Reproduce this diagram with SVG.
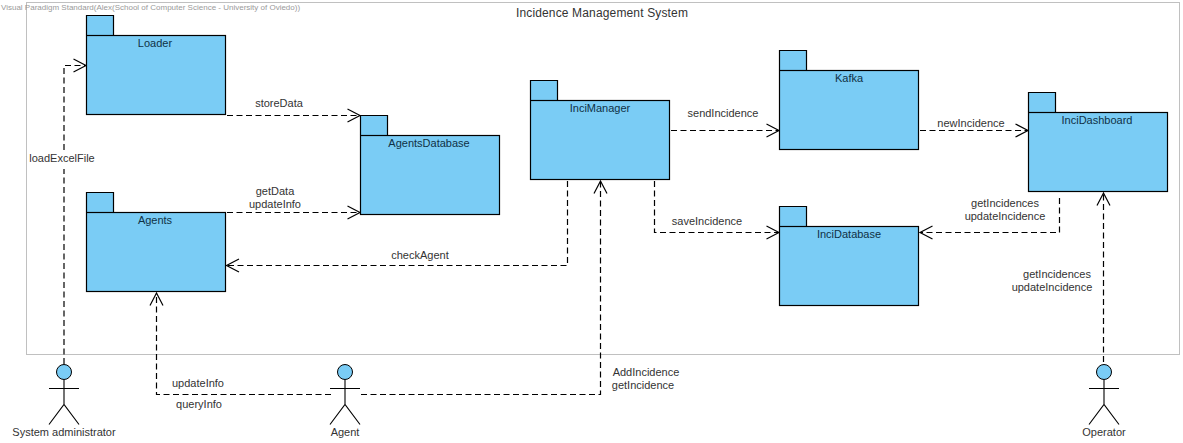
<svg xmlns="http://www.w3.org/2000/svg" width="1183" height="443" viewBox="0 0 1183 443">
<style>
text{font-family:"Liberation Sans",Arial,sans-serif;font-size:11px;fill:#333}
.m{text-anchor:middle}
.n{fill:#0f3145}
.pk{fill:#7accf5;stroke:#000;stroke-width:1.2}
.c{fill:none;stroke:#000;stroke-width:1.2;stroke-dasharray:6 3.500}
.h{fill:none;stroke:#000;stroke-width:1.200}
.a{fill:none;stroke:#000;stroke-width:1.1}
.hd{fill:#7accf5;stroke:#000;stroke-width:1}
</style>
<defs>
<g id="actor"><circle class="hd" cx="0" cy="372" r="7.500"/><path class="a" d="M0 380V404.500M-15 388.500H15M-15 424.500L0 404.500L15 424.500"/></g>
<marker id="arr" markerUnits="userSpaceOnUse" markerWidth="16" markerHeight="16" refX="13.500" refY="8" orient="auto"><path class="h" d="M1 1.500L13.500 8L1 14.500"/></marker>
</defs>
<rect id="frame" x="26.500" y="2.500" width="1153" height="352" fill="#fff" stroke="#c0c0c0" stroke-width="1"/>
<text id="title" class="m" x="602" y="17" style="font-size:12px;letter-spacing:.15px">Incidence Management System</text>
<text id="watermark" x="1" y="10" style="font-size:8px;fill:#9a9a9a">Visual Paradigm Standard(Alex(School of Computer Science - University of Oviedo))</text>
<g id="connectors">
<path class="c" d="M64 364V169"/>
<path class="c" marker-end="url(#arr)" d="M64 150V65.500H86"/>
<path class="c" marker-end="url(#arr)" d="M227 115.500H360"/>
<path class="c" marker-end="url(#arr)" d="M227 212.500H360"/>
<path class="c" marker-end="url(#arr)" d="M567.500 181V265.500H226.500"/>
<path class="c" marker-end="url(#arr)" d="M671 130.500H779"/>
<path class="c" marker-end="url(#arr)" d="M654.500 181V232.500H779"/>
<path class="c" marker-end="url(#arr)" d="M920 130.500H1028"/>
<path class="c" marker-end="url(#arr)" d="M1059.500 198V232.500H920"/>
<path class="c" marker-end="url(#arr)" d="M1103.500 362V193"/>
<path class="c" marker-end="url(#arr)" d="M331 394.500H156.500V293"/>
<path class="c" marker-end="url(#arr)" d="M361 394.500H600.500V181"/>
</g>
<g id="labels">
<text class="m" x="279" y="107">storeData</text>
<text class="m" x="275" y="195">getData</text>
<text class="m" x="275" y="208">updateInfo</text>
<text class="m" x="420" y="259">checkAgent</text>
<text class="m" x="723" y="117">sendIncidence</text>
<text class="m" x="707" y="225">saveIncidence</text>
<text class="m" x="971" y="127">newIncidence</text>
<text class="m" x="1005" y="207">getIncidences</text>
<text class="m" x="1005" y="220">updateIncidence</text>
<text class="m" x="1057" y="278">getIncidences</text>
<text class="m" x="1052" y="291">updateIncidence</text>
<text class="m" x="62" y="162">loadExcelFile</text>
<text class="m" x="198" y="387">updateInfo</text>
<text class="m" x="199" y="408">queryInfo</text>
<text class="m" x="646" y="376">AddIncidence</text>
<text class="m" x="643" y="389">getIncidence</text>
</g>
<g id="loader"><path class="pk" d="M86.500 35V15.500H113.500V35"/><rect class="pk" x="86.500" y="35.500" width="139" height="79"/><text class="m n" x="155" y="47">Loader</text></g>
<g id="agentsdatabase"><path class="pk" d="M360.500 135V115.500H387.500V135"/><rect class="pk" x="360.500" y="135.500" width="139" height="79"/><text class="m n" x="429" y="147">AgentsDatabase</text></g>
<g id="agents"><path class="pk" d="M86.500 212V192.500H113.500V212"/><rect class="pk" x="86.500" y="212.500" width="139" height="79"/><text class="m n" x="155" y="224">Agents</text></g>
<g id="incimanager"><path class="pk" d="M530.500 100V80.500H557.500V100"/><rect class="pk" x="530.500" y="100.500" width="139" height="79"/><text class="m n" x="600" y="112">InciManager</text></g>
<g id="kafka"><path class="pk" d="M779.500 70V50.500H806.500V70"/><rect class="pk" x="779.500" y="70.500" width="139" height="79"/><text class="m n" x="849" y="82">Kafka</text></g>
<g id="incidashboard"><path class="pk" d="M1028.500 112V92.500H1055.500V112"/><rect class="pk" x="1028.500" y="112.500" width="139" height="79"/><text class="m n" x="1097" y="124">InciDashboard</text></g>
<g id="incidatabase"><path class="pk" d="M779.500 226V206.500H806.500V226"/><rect class="pk" x="779.500" y="226.500" width="139" height="79"/><text class="m n" x="849" y="238">InciDatabase</text></g>
<g id="system-administrator"><use href="#actor" x="64"/><text class="m" x="64" y="436">System administrator</text></g>
<g id="agent"><use href="#actor" x="345"/><text class="m" x="345" y="436">Agent</text></g>
<g id="operator"><use href="#actor" x="1104"/><text class="m" x="1104" y="436">Operator</text></g>
</svg>
